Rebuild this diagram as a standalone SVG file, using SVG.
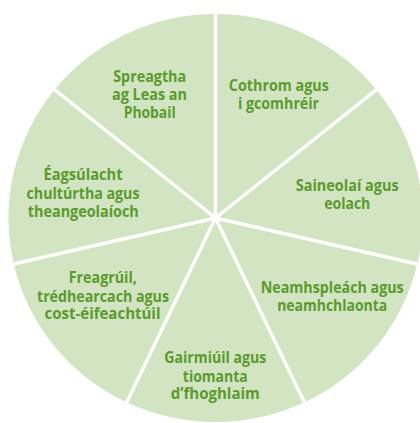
<svg xmlns="http://www.w3.org/2000/svg" width="420" height="423" viewBox="0 0 420 423">
<style>
.seg{fill:#d2e4c1;stroke:none}
.sep{stroke:#ffffff;stroke-width:3.5;stroke-linecap:butt}
.lbl{font-family:"Open Sans","Noto Sans","Liberation Sans",sans-serif;font-weight:700;font-size:16.5px;fill:#5a9b2e;text-anchor:middle}
</style>
<rect width="420" height="423" fill="#ffffff"/>
<g id="node-spreagtha">
<path class="seg" d="M215.5 218 L54.6 89.7 A207 204 0 0 1 215.5 14 Z"/>
<text class="lbl"><tspan x="149.7" y="82" textLength="73" lengthAdjust="spacingAndGlyphs">Spreagtha</tspan><tspan x="149.5" y="100" textLength="75" lengthAdjust="spacingAndGlyphs">ag Leas an</tspan><tspan x="149.7" y="118" textLength="52" lengthAdjust="spacingAndGlyphs">Phobail</tspan></text>
</g>
<g id="node-cothrom">
<path class="seg" d="M215.5 218 L215.5 14 A207 204 0 0 1 376.4 89.7 Z"/>
<text class="lbl"><tspan x="278.8" y="90.7" textLength="100" lengthAdjust="spacingAndGlyphs">Cothrom agus</tspan><tspan x="278.5" y="109" textLength="81" lengthAdjust="spacingAndGlyphs">i gcomhréir</tspan></text>
</g>
<g id="node-saineolai">
<path class="seg" d="M215.5 218 L376.4 89.7 A207 204 0 0 1 417.2 264 Z"/>
<text class="lbl"><tspan x="347.2" y="190.7" textLength="103" lengthAdjust="spacingAndGlyphs">Saineolaí agus</tspan><tspan x="347.3" y="209.3" textLength="46" lengthAdjust="spacingAndGlyphs">eolach</tspan></text>
</g>
<g id="node-neamhspleach">
<path class="seg" d="M215.5 218 L417.2 264 A207 204 0 0 1 304.3 402.3 Z"/>
<text class="lbl"><tspan x="332.2" y="292.7" textLength="143" lengthAdjust="spacingAndGlyphs">Neamhspleách agus</tspan><tspan x="332.2" y="311" textLength="110" lengthAdjust="spacingAndGlyphs">neamhchlaonta</tspan></text>
</g>
<g id="node-gairmiuil">
<path class="seg" d="M215.5 218 L304.3 402.3 A207 204 0 0 1 126.7 402.3 Z"/>
<text class="lbl"><tspan x="215.3" y="363.3" textLength="102" lengthAdjust="spacingAndGlyphs">Gairmiúil agus</tspan><tspan x="215.3" y="381.7" textLength="65" lengthAdjust="spacingAndGlyphs">tiomanta</tspan><tspan x="215.3" y="399.3" textLength="89" lengthAdjust="spacingAndGlyphs">d’fhoghlaim</tspan></text>
</g>
<g id="node-freagruil">
<path class="seg" d="M215.5 218 L126.7 402.3 A207 204 0 0 1 13.8 264 Z"/>
<text class="lbl"><tspan x="102.8" y="283.3" textLength="68" lengthAdjust="spacingAndGlyphs">Freagrúil,</tspan><tspan x="103" y="301.7" textLength="132" lengthAdjust="spacingAndGlyphs">trédhearcach agus</tspan><tspan x="102.5" y="319" textLength="116" lengthAdjust="spacingAndGlyphs">cost-éifeachtúil</tspan></text>
</g>
<g id="node-eagsulacht">
<path class="seg" d="M215.5 218 L13.8 264 A207 204 0 0 1 54.6 89.7 Z"/>
<text class="lbl"><tspan x="83" y="180" textLength="79" lengthAdjust="spacingAndGlyphs">Éagsúlacht</tspan><tspan x="83" y="199.3" textLength="113" lengthAdjust="spacingAndGlyphs">chultúrtha agus</tspan><tspan x="83.3" y="217.3" textLength="111" lengthAdjust="spacingAndGlyphs">theangeolaíoch</tspan></text>
</g>
<g id="separators">
<line class="sep" x1="215.5" y1="218" x2="215.5" y2="3"/>
<line class="sep" x1="215.5" y1="218" x2="383.6" y2="83.9"/>
<line class="sep" x1="215.5" y1="218" x2="425.1" y2="265.8"/>
<line class="sep" x1="215.5" y1="218" x2="308.8" y2="411.7"/>
<line class="sep" x1="215.5" y1="218" x2="122.2" y2="411.7"/>
<line class="sep" x1="215.5" y1="218" x2="5.9" y2="265.8"/>
<line class="sep" x1="215.5" y1="218" x2="47.4" y2="83.9"/>
</g>
</svg>
